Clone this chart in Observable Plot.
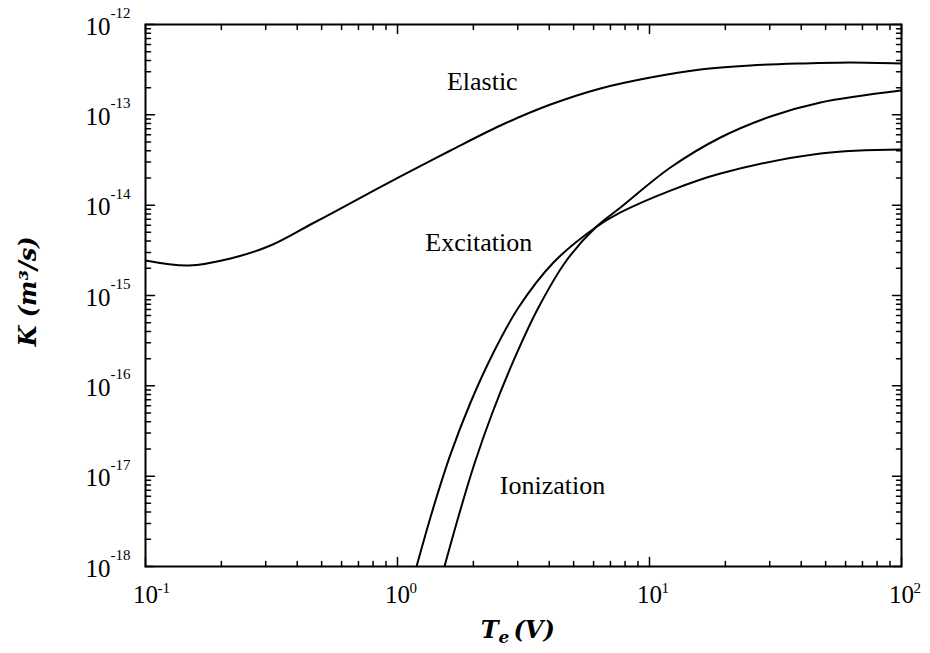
<!DOCTYPE html>
<html>
<head>
<meta charset="utf-8">
<script src="https://cdn.jsdelivr.net/npm/d3@7"></script>
<script src="https://cdn.jsdelivr.net/npm/@observablehq/plot@0.6"></script>
<style>
  html, body { margin: 0; padding: 0; background: #fff; }
</style>
</head>
<body>
<div id="chart"></div>
<script>
// Rate constants K (m^3/s) versus electron temperature Te (V)
const elasticTe = [0.1, 0.1482, 0.2175, 0.3133, 0.4517, 0.594, 1.028, 1.623, 2.563, 4.047, 6.391, 10.09, 15.94, 25.17, 39.74, 62.76, 100];
const elasticK  = [2.44e-15, 2.15e-15, 2.57e-15, 3.58e-15, 6.11e-15, 9.18e-15, 2.08e-14, 4.03e-14, 7.62e-14, 1.30e-13, 1.96e-13, 2.59e-13, 3.18e-13, 3.52e-13, 3.70e-13, 3.80e-13, 3.70e-13];

const excitationTe = [1.190, 1.377, 1.623, 1.949, 2.404, 3.021, 4.159, 6.107, 7.671, 12.11, 19.13, 47.72, 100];
const excitationK  = [1e-18, 4.17e-18, 1.74e-17, 6.54e-17, 2.34e-16, 7.36e-16, 2.32e-15, 5.66e-15, 8.30e-15, 1.45e-14, 2.24e-14, 3.73e-14, 4.13e-14];

const ionizationTe = [1.536, 1.746, 2.021, 2.382, 2.913, 3.626, 4.684, 6.107, 7.671, 12.11, 19.13, 30.22, 47.72, 100];
const ionizationK  = [1e-18, 3.58e-18, 1.38e-17, 5.07e-17, 2.01e-16, 7.36e-16, 2.44e-15, 5.66e-15, 9.42e-15, 2.61e-14, 5.61e-14, 9.58e-14, 1.37e-13, 1.86e-13];

// Curve labels and where they sit
const labelNames = ["Elastic", "Excitation", "Ionization"];
const labelTe    = [2.17, 2.1, 4.12];
const labelK     = [2.34e-13, 3.8e-15, 7.8e-18];

// Axis decades and their exponent labels
const xDecades   = [0.1, 1, 10, 100];
const xExponents = ["-1", "0", "1", "2"];
const yDecades   = [1e-18, 1e-17, 1e-16, 1e-15, 1e-14, 1e-13, 1e-12];
const yExponents = ["-18", "-17", "-16", "-15", "-14", "-13", "-12"];

const series = [
  ...elasticTe.map((t, i) => ({kind: "Elastic", te: t, k: elasticK[i]})),
  ...excitationTe.map((t, i) => ({kind: "Excitation", te: t, k: excitationK[i]})),
  ...ionizationTe.map((t, i) => ({kind: "Ionization", te: t, k: ionizationK[i]}))
];
const labels = labelNames.map((name, i) => ({name, te: labelTe[i], k: labelK[i]}));

// Minor ticks at 2..9 within each decade
const minorX = xDecades.slice(0, -1).flatMap(d => d3.range(2, 10).map(m => m * d));
const minorY = yDecades.slice(0, -1).flatMap(d => d3.range(2, 10).map(m => m * d));

const W = 930, H = 653;
const mL = 145, mR = 29, mT = 24, mB = 87;
const major = 9, minor = 5;
const serif = "'Liberation Serif', 'Times New Roman', serif";
const mathFont = "'DejaVu Serif', serif";

// A plain straight tick: a vector shape with no arrowhead, pointing into the frame
const tickShape = {draw(context, l) { context.moveTo(0, 0); context.lineTo(0, -l); }};
const inwardTicks = (values, channel, side, length) => Plot.vector(values, {
  [channel]: d => d,
  frameAnchor: side,
  length,
  rotate: {bottom: 0, top: 180, left: 90, right: -90}[side],
  anchor: "start",
  shape: tickShape,
  stroke: "black",
  strokeWidth: 1.5
});

const mathText = {fontWeight: "bold", fontStyle: "italic", fontFamily: mathFont, fill: "black"};

const chart = Plot.plot({
  width: W,
  height: H,
  marginLeft: mL,
  marginRight: mR,
  marginTop: mT,
  marginBottom: mB,
  style: {fontFamily: serif, background: "white", color: "black"},
  x: {type: "log", domain: [0.1, 100], axis: null},
  y: {type: "log", domain: [1e-18, 1e-12], axis: null},
  marks: [
    // inward ticks on all four sides
    inwardTicks(xDecades, "x", "bottom", major),
    inwardTicks(xDecades, "x", "top", major),
    inwardTicks(minorX, "x", "bottom", minor),
    inwardTicks(minorX, "x", "top", minor),
    inwardTicks(yDecades, "y", "left", major),
    inwardTicks(yDecades, "y", "right", major),
    inwardTicks(minorY, "y", "left", minor),
    inwardTicks(minorY, "y", "right", minor),

    // the three rate-constant curves
    Plot.line(series, {x: "te", y: "k", z: "kind", stroke: "black", strokeWidth: 2, curve: "catmull-rom", clip: true}),

    // curve names
    Plot.text(labels, {x: "te", y: "k", text: "name", fontSize: 26, fill: "black"}),

    // x tick labels: "10" centred on the tick, exponent raised to the right
    Plot.text(xDecades, {x: d => d, frameAnchor: "bottom", text: () => "10", fontSize: 25, textAnchor: "middle", dy: 28, lineAnchor: "middle", fill: "black"}),
    Plot.text(xDecades, {x: d => d, frameAnchor: "bottom", text: (d, i) => xExponents[i], fontSize: 15, textAnchor: "start", dx: 12, dy: 16, lineAnchor: "top", fill: "black"}),

    // y tick labels
    Plot.text(yDecades, {y: d => d, frameAnchor: "left", text: () => "10", fontSize: 25, textAnchor: "end", dx: -35, dy: 2, lineAnchor: "middle", fill: "black"}),
    Plot.text(yDecades, {y: d => d, frameAnchor: "left", text: (d, i) => yExponents[i], fontSize: 15, textAnchor: "start", dx: -35, dy: -17, lineAnchor: "top", fill: "black"}),

    // axis titles
    Plot.text(["K (m³/s)"], {frameAnchor: "left", textAnchor: "middle", lineAnchor: "middle", rotate: -90, dx: -117, dy: -4, fontSize: 24, ...mathText}),
    Plot.text(["T"], {frameAnchor: "bottom", textAnchor: "end", dx: -25, dy: 64, lineAnchor: "middle", fontSize: 24, ...mathText}),
    Plot.text(["e"], {frameAnchor: "bottom", textAnchor: "start", dx: -25, dy: 71, lineAnchor: "middle", fontSize: 17, ...mathText}),
    Plot.text(["(V)"], {frameAnchor: "bottom", textAnchor: "start", dx: -10, dy: 64, lineAnchor: "middle", fontSize: 24, ...mathText}),

    Plot.frame({stroke: "black", strokeWidth: 2})
  ]
});

document.getElementById("chart").appendChild(chart);
</script>
</body>
</html>
